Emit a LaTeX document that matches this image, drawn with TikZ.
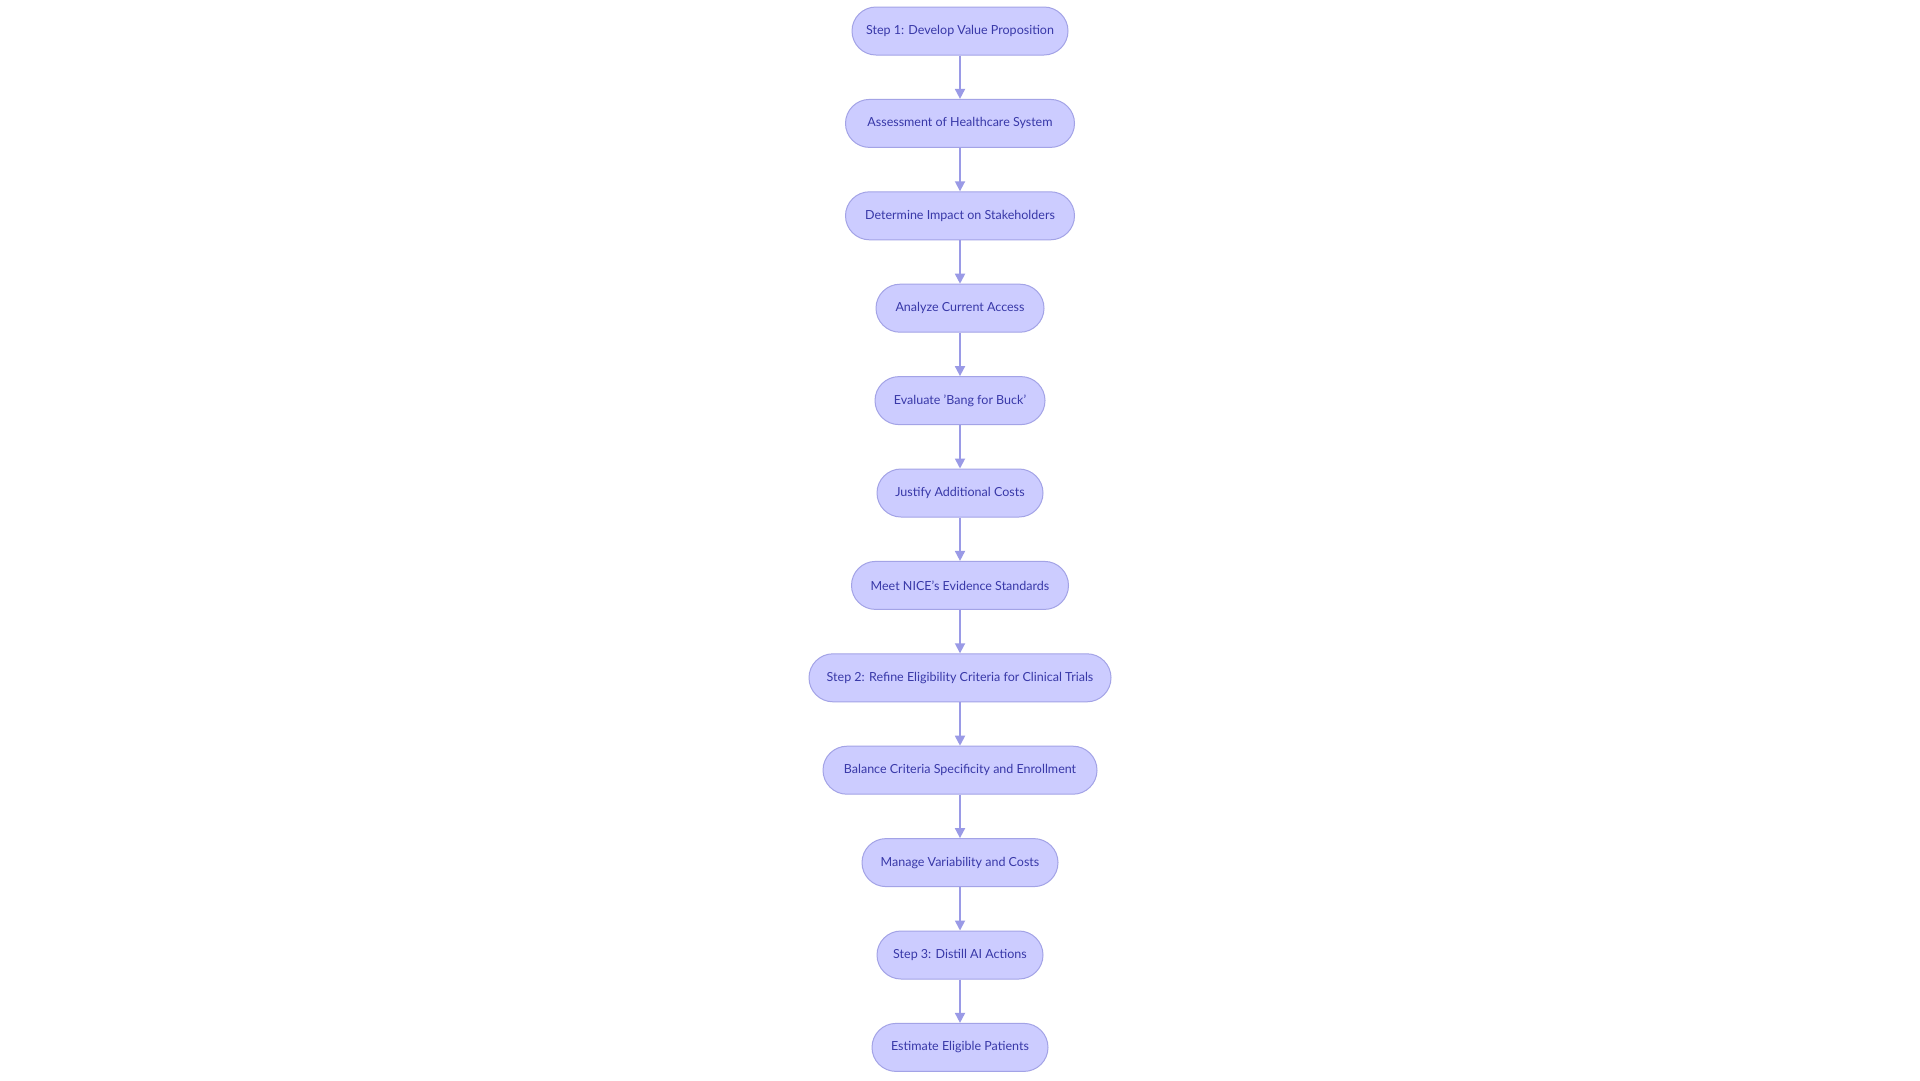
\documentclass[tikz,border=0pt]{standalone}
\usepackage{fontspec}
\setmainfont{Lato}
\usetikzlibrary{arrows.meta}
\definecolor{nodefill}{HTML}{CCCCFF}
\definecolor{nodedraw}{HTML}{A3A3E6}
\definecolor{nodetext}{HTML}{3838A8}
\definecolor{edgecol}{HTML}{9A9AE6}
\tikzset{
  flowbox/.style={draw=nodedraw, fill=nodefill, line width=1pt, rounded corners=24pt,
    minimum height=48pt, inner sep=0pt, text=nodetext,
    font=\fontsize{12.5pt}{15pt}\selectfont},
  flowedge/.style={draw=edgecol, line width=1.8pt,
    -{Triangle[length=10pt,width=10pt]}, shorten >=0pt}
}
\begin{document}
\begin{tikzpicture}[x=1pt,y=1pt]
\useasboundingbox[fill=white] (0,0) rectangle (1920,-1080);
\node[flowbox, minimum width=216] (n1) at (960,-31) {Step 1: Develop Value Proposition};
\node[flowbox, minimum width=229] (n2) at (960,-123.4) {Assessment of Healthcare System};
\node[flowbox, minimum width=229] (n3) at (960,-215.8) {Determine Impact on Stakeholders};
\node[flowbox, minimum width=168] (n4) at (960,-308.2) {Analyze Current Access};
\node[flowbox, minimum width=170] (n5) at (960,-400.6) {Evaluate 'Bang for Buck'};
\node[flowbox, minimum width=166] (n6) at (960,-493) {Justify Additional Costs};
\node[flowbox, minimum width=217] (n7) at (960,-585.4) {Meet NICE's Evidence Standards};
\node[flowbox, minimum width=302] (n8) at (960,-677.8) {Step 2: Refine Eligibility Criteria for Clinical Trials};
\node[flowbox, minimum width=274] (n9) at (960,-770.2) {Balance Criteria Specificity and Enrollment};
\node[flowbox, minimum width=196] (n10) at (960,-862.6) {Manage Variability and Costs};
\node[flowbox, minimum width=166] (n11) at (960,-955) {Step 3: Distill AI Actions};
\node[flowbox, minimum width=176] (n12) at (960,-1047.4) {Estimate Eligible Patients};
\foreach \a/\b in {n1/n2,n2/n3,n3/n4,n4/n5,n5/n6,n6/n7,n7/n8,n8/n9,n9/n10,n10/n11,n11/n12}
  \draw[flowedge] (\a.south) -- (\b.north);
\end{tikzpicture}
\end{document}
